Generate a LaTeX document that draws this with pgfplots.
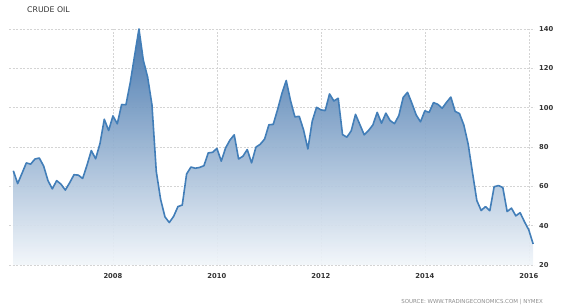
\documentclass[border=0pt]{standalone}
\usepackage{fontspec}
\setmainfont{DejaVu Sans}
\usepackage{pgfplots}
\pgfplotsset{compat=1.18}
\usepackage{pgfplotstable}
\definecolor{lineblue}{RGB}{66,126,184}
\definecolor{filltop}{RGB}{58,110,168}
\definecolor{fillbot}{RGB}{242,246,250}
\definecolor{gridgray}{RGB}{212,212,212}
\definecolor{labgray}{RGB}{51,51,51}
\definecolor{srcgray}{RGB}{140,140,140}

\pgfplotstableread{
val
67.9
61.4
66.6
71.9
71.3
73.9
74.4
70.3
62.9
58.7
62.9
61.1
58.1
61.8
65.9
65.7
64.0
70.7
78.2
74.0
81.7
94.1
88.4
95.8
91.8
101.6
101.5
112.8
126.5
140.0
124.2
115.6
101.5
67.6
53.4
44.5
41.6
44.7
49.7
50.5
66.3
69.8
69.2
69.6
70.5
77.0
77.3
79.3
72.8
79.5
83.5
86.2
73.9
75.3
78.7
71.9
79.9
81.4
84.0
91.3
91.5
99.0
107.2
113.8
103.5
95.3
95.6
88.7
79.0
93.1
100.2
98.9
98.5
107.0
103.4
104.8
86.3
85.0
88.2
96.6
91.4
86.2
88.4
91.2
97.6
92.1
97.2
93.4
91.9
96.0
105.2
107.8
102.3
96.3
92.8
98.4
97.6
102.6
101.7
99.7
102.7
105.4
98.1
97.0
91.2
81.5
67.0
52.8
47.7
49.7
47.6
59.8
60.4
59.4
47.2
48.9
45.0
46.6
42.0
37.8
30.7
}\oil

\begin{document}
\begin{tikzpicture}
\useasboundingbox (-9bp,-43bp) rectangle (556bp,265bp);
\begin{axis}[
  at={(0,0)}, anchor=south west,
  scale only axis, width=525bp, height=236bp,
  xmin=2006, xmax=2016.1, ymin=20, ymax=140,
  xtick={2008,2010,2012,2014,2016},
  xticklabels={2008,2010,2012,2014,2016},
  ytick={20,40,60,80,100,120,140},
  yticklabel pos=right,
  axis line style={draw=none},
  major tick length=0pt,
  grid=major,
  major grid style={gridgray, dash pattern=on 2bp off 1.5bp, line width=0.6bp},
  tick label style={font=\fontsize{6.8}{8}\selectfont\bfseries, text=labgray, inner sep=0pt},
  yticklabel style={anchor=west, xshift=5bp},
  xticklabel style={anchor=north, yshift=-8bp},
  /pgf/number format/assume math mode=true,
  /pgf/number format/1000 sep={},
  clip=false,
]
\begin{scope}
\clip (axis cs:2006,20) rectangle (axis cs:2016.1,142);
\addplot[top color=filltop, bottom color=fillbot, fill opacity=0.93, draw=none, forget plot] table[x expr={2006+(\coordindex+1)/12}, y=val]{\oil} \closedcycle;
\end{scope}
\addplot[lineblue, line width=1.6bp, line join=round, mark=none] table[x expr={2006+(\coordindex+1)/12}, y=val]{\oil};
\end{axis}
\node[anchor=base west, inner sep=0pt, font=\fontsize{7.8}{9}\selectfont, text=labgray] at (18bp,252.7bp) {CRUDE OIL};
\node[anchor=base east, inner sep=0pt, font=\fontsize{5.5}{6}\selectfont, text=srcgray] at (534bp,-38bp) {SOURCE: WWW.TRADINGECONOMICS.COM | NYMEX};
\end{tikzpicture}
\end{document}
